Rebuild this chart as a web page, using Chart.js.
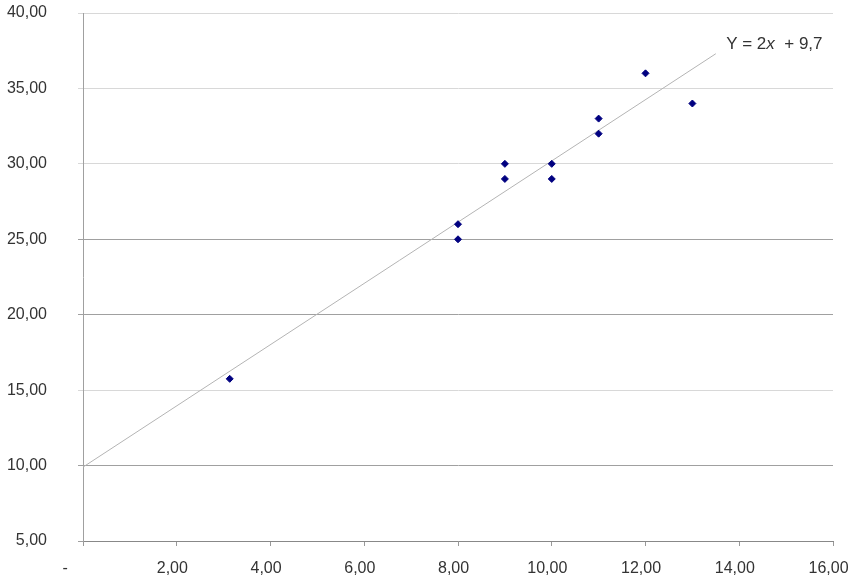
<!DOCTYPE html>
<html>
<head>
<meta charset="utf-8">
<script src="https://cdn.jsdelivr.net/npm/chart.js@4/dist/chart.umd.min.js"></script>
<style>
  html, body { margin: 0; padding: 0; background: #fff; }
  #wrap { width: 855px; height: 585px; }
</style>
</head>
<body>
<div id="wrap"><canvas id="chart"></canvas></div>
<script>
// Pontos observados
const pointsX = [3.13, 8, 8, 9, 9, 10, 10, 11, 11, 12, 13];
const pointsY = [15.75, 26, 25, 30, 29, 30, 29, 33, 32, 36, 34];

// Linha de tendência (extremos)
const trendX = [0, 13.5];
const trendY = [9.9, 37.3];

const equationText = ['Y = 2', 'x', '  + 9,7'];
const equationPos = { x: 13.72, y: 37.6 };

const yTicks = [5, 10, 15, 20, 25, 30, 35, 40];
const xTicks = [0, 2, 4, 6, 8, 10, 12, 14, 16];
const darkGrid = [10, 20, 25];

const FONT = '"Liberation Sans", Arial, sans-serif';

function fmtY(v) {
    return v.toFixed(2).replace('.', ',');
}

function fmtX(v) {
    // formato contábil: zero vira traço, espaço à direita
    if (v === 0) return '-        ';
    return v.toFixed(2).replace('.', ',') + '  ';
}

const equationPlugin = {
    id: 'equation',
    afterDatasetsDraw(chart) {
        const ctx = chart.ctx;
        const px = chart.scales.x.getPixelForValue(equationPos.x);
        const py = chart.scales.y.getPixelForValue(equationPos.y);
        ctx.save();
        ctx.fillStyle = '#333';
        ctx.textBaseline = 'alphabetic';
        ctx.textAlign = 'left';
        let cx = px;
        equationText.forEach((part, i) => {
            ctx.font = (i === 1 ? 'italic ' : '') + '17px ' + FONT;
            ctx.fillText(part, cx, py);
            cx += ctx.measureText(part).width;
        });
        ctx.restore();
    }
};

new Chart(document.getElementById('chart'), {
    type: 'scatter',
    data: {
        datasets: [{
            label: 'Tendência',
            data: trendX.map((x, i) => ({ x: x, y: trendY[i] })),
            showLine: true,
            borderColor: '#b4b4b4',
            borderWidth: 1,
            pointRadius: 0,
            order: 2
        }, {
            label: 'Dados',
            data: pointsX.map((x, i) => ({ x: x, y: pointsY[i] })),
            pointStyle: 'rectRot',
            pointRadius: 3.5,
            pointBackgroundColor: '#000080',
            pointBorderColor: '#000080',
            pointBorderWidth: 1,
            order: 1
        }]
    },
    options: {
        responsive: true,
        maintainAspectRatio: false,
        animation: false,
        layout: { padding: { left: 0, right: 22, top: 13, bottom: 0 } },
        plugins: {
            legend: { display: false },
            tooltip: { enabled: false }
        },
        scales: {
            x: {
                type: 'linear',
                min: 0,
                max: 16,
                afterBuildTicks: s => { s.ticks = xTicks.map(v => ({ value: v })); },
                afterFit: s => {
                    s.height = 44;
                    s.paddingLeft = 0;
                    s.paddingRight = 0;
                },
                grid: {
                    drawOnChartArea: false,
                    drawTicks: true,
                    tickLength: 5,
                    color: '#999'
                },
                border: { color: '#888' },
                ticks: {
                    padding: 13,
                    color: '#333',
                    font: { family: FONT, size: 16 },
                    maxRotation: 0,
                    callback: v => fmtX(v)
                }
            },
            y: {
                min: 5,
                max: 40,
                afterBuildTicks: s => { s.ticks = yTicks.map(v => ({ value: v })); },
                afterFit: s => {
                    s.width = 83;
                    s.paddingTop = 0;
                    s.paddingBottom = 0;
                },
                grid: {
                    drawTicks: true,
                    tickLength: 5,
                    color: c => (darkGrid.includes(c.tick && c.tick.value) || c.index === 0) ? '#a0a0a0' : '#d8d8d8'
                },
                border: { color: '#a0a0a0' },
                ticks: {
                    padding: 31,
                    color: '#333',
                    font: { family: FONT, size: 16 },
                    callback: v => fmtY(v)
                }
            }
        }
    },
    plugins: [equationPlugin]
});
</script>
</body>
</html>
